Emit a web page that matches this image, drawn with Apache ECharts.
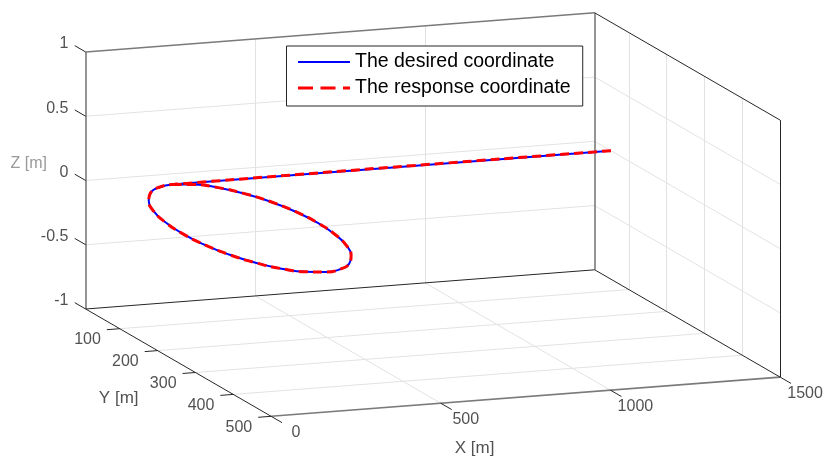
<!DOCTYPE html>
<html>
<head>
<meta charset="utf-8">
<script src="https://cdn.jsdelivr.net/npm/echarts@6/dist/echarts.min.js"></script>
<style>
  html, body { margin: 0; background: #fff; }
  #chart { width: 825px; height: 458px; }
</style>
</head>
<body>
<div id="chart"></div>
<script>
// axis limits and ticks
const xLim = [0, 1500]
const yLim = [10, 500]
const zLim = [-1, 1]
const xTicks = [0, 500, 1000, 1500]
const yTicks = [100, 200, 300, 400, 500]
const zTicks = [-1, -0.5, 0, 0.5, 1]
const xGrid = [500, 1000]
const yGrid = [100, 200, 300, 400]
const zGrid = [-0.5, 0, 0.5]

// trajectory (all points lie in the plane Z = 0)
const desiredX = [1500, 213, 161, 113, 72, 40, 20, 13, 20, 40, 72, 113, 161, 213, 265, 313, 354, 386, 406, 413, 406, 386, 354, 313, 265, 213]
const desiredY = [53, 53, 60, 80, 112, 153, 201, 253, 305, 353, 394, 426, 446, 453, 446, 426, 394, 353, 305, 253, 201, 153, 112, 80, 60, 53]
const responseX = [1500, 213, 161, 113, 72, 40, 20, 13, 20, 40, 72, 113, 161, 213, 265, 313, 354, 386, 406, 413, 406, 386, 354, 313, 265, 213]
const responseY = [53, 53, 60, 80, 112, 153, 201, 253, 305, 353, 394, 426, 446, 453, 446, 426, 394, 353, 305, 253, 201, 153, 112, 80, 60, 53]
const trackZ = 0

// camera: pixel of the (xmin,ymin,zmin) corner and the pixel span of each box edge
const view = { origin: [85.7, 309], xEdge: [509, -39.2], yEdge: [185.4, 107.3], zEdge: [0, -257] }

function project(x, y, z) {
	const u = (x - xLim[0]) / (xLim[1] - xLim[0])
	const v = (y - yLim[0]) / (yLim[1] - yLim[0])
	const w = (z - zLim[0]) / (zLim[1] - zLim[0])
	return [
		view.origin[0] + u * view.xEdge[0] + v * view.yEdge[0] + w * view.zEdge[0],
		view.origin[1] + u * view.xEdge[1] + v * view.yEdge[1] + w * view.zEdge[1]
	]
}
const seg = (a, b) => ({ coords: [project(...a), project(...b)] })

const [x0, x1] = xLim, [y0, y1] = yLim, [z0, z1] = zLim

// light grid on back wall, side wall and floor
const gridSegs = []
zGrid.forEach(z => {
	gridSegs.push(seg([x0, y0, z], [x1, y0, z]))
	gridSegs.push(seg([x1, y0, z], [x1, y1, z]))
})
xGrid.forEach(x => {
	gridSegs.push(seg([x, y0, z0], [x, y0, z1]))
	gridSegs.push(seg([x, y0, z0], [x, y1, z0]))
})
yGrid.forEach(y => {
	gridSegs.push(seg([x1, y, z0], [x1, y, z1]))
	gridSegs.push(seg([x0, y, z0], [x1, y, z0]))
})

// box edges: the softer grey ones and the dark ones
const softEdges = [
	seg([x0, y0, z0], [x0, y0, z1]),
	seg([x0, y0, z1], [x1, y0, z1]),
	seg([x1, y0, z0], [x1, y0, z1]),
	seg([x0, y1, z0], [x1, y1, z0])
]
const darkEdges = [
	seg([x1, y0, z1], [x1, y1, z1]),
	seg([x1, y1, z0], [x1, y1, z1]),
	seg([x0, y0, z0], [x1, y0, z0]),
	seg([x1, y0, z0], [x1, y1, z0]),
	seg([x0, y0, z0], [x0, y1, z0])
]

// tick marks (lengths in data units of the direction they point to)
const zTickLen = 29, yTickLen = 38, xTickLen = 29
const tickSegs = []
zTicks.forEach(z => tickSegs.push(seg([x0, y0, z], [x0, y0 - zTickLen, z])))
yTicks.forEach(y => tickSegs.push(seg([x0, y, z0], [x0 - yTickLen, y, z0])))
xTicks.forEach(x => tickSegs.push(seg([x, y1, z0], [x, y1 + xTickLen, z0])))

const zLabelData = zTicks.map(z => ({ name: String(z), value: project(x0, y0 - zTickLen, z) }))
const yLabelData = yTicks.map(y => ({ name: String(y), value: project(x0 - yTickLen, y, z0) }))
const xLabelData = xTicks.map(x => ({ name: String(x), value: project(x, y1 + xTickLen, z0) }))

const font = 'Liberation Sans, Arial, Helvetica, sans-serif'
const tickText = { show: true, position: 'inside', formatter: '{b}', fontFamily: font, fontSize: 16, color: '#262626' }
const ghost = { color: 'rgba(0,0,0,0)' }

const desired = desiredX.map((x, i) => project(x, desiredY[i], trackZ))
const response = responseX.map((x, i) => project(x, responseY[i], trackZ))

const chart = echarts.init(document.getElementById('chart'))
chart.setOption({
	animation: false,
	grid: { left: 0, right: 0, top: 0, bottom: 0 },
	xAxis: { type: 'value', min: 0, max: 825, show: false },
	yAxis: { type: 'value', min: 0, max: 458, inverse: true, show: false },
	legend: {
		data: [
			{ name: 'The desired coordinate', lineStyle: { width: 2 } },
			{ name: 'The response coordinate', lineStyle: { width: 3, type: [15, 7.5] } }
		],
		orient: 'vertical',
		left: 286.5,
		top: 46,
		padding: [6, 12, 8, 10],
		itemWidth: 52,
		itemHeight: 14,
		itemGap: 6,
		itemStyle: { opacity: 0 },
		backgroundColor: '#fff',
		borderColor: '#262626',
		borderWidth: 1,
		borderRadius: 0,
		textStyle: { fontFamily: font, fontSize: 19.5, color: '#000', lineHeight: 20 }
	},
	series: [
		{
			type: 'lines', coordinateSystem: 'cartesian2d', silent: true, z: 1,
			lineStyle: { color: '#e2e2e2', width: 1, opacity: 1 },
			data: gridSegs
		},
		{
			type: 'lines', coordinateSystem: 'cartesian2d', silent: true, z: 2,
			lineStyle: { color: '#7a7a7a', width: 1.6, opacity: 1 },
			data: softEdges
		},
		{
			type: 'lines', coordinateSystem: 'cartesian2d', silent: true, z: 2,
			lineStyle: { color: '#262626', width: 1, opacity: 1 },
			data: darkEdges.concat(tickSegs)
		},
		{
			type: 'scatter', silent: true, symbolSize: 1, itemStyle: ghost, z: 3,
			label: Object.assign({}, tickText, { align: 'right', verticalAlign: 'middle', offset: [-6.3, -1.8] }),
			data: zLabelData
		},
		{
			type: 'scatter', silent: true, symbolSize: 1, itemStyle: ghost, z: 3,
			label: Object.assign({}, tickText, { align: 'right', verticalAlign: 'middle', offset: [-6, 10] }),
			data: yLabelData
		},
		{
			type: 'scatter', silent: true, symbolSize: 1, itemStyle: ghost, z: 3,
			label: Object.assign({}, tickText, { align: 'center', verticalAlign: 'middle', offset: [14, 10] }),
			data: xLabelData
		},
		{
			type: 'scatter', silent: true, symbolSize: 1, itemStyle: ghost, z: 3,
			label: Object.assign({}, tickText, { align: 'center', verticalAlign: 'middle', fontSize: 17 }),
			data: [
				{ name: 'X [m]', value: project((x0 + x1) / 2, y1, z0), label: { offset: [-51, 52] } },
				{ name: 'Y [m]', value: project(x0, (y0 + y1) / 2, z0), label: { offset: [-59.7, 35.6] } },
				{ name: 'Z [m]', value: project(x0, y0, (z0 + z1) / 2), label: { offset: [-56.9, -17.2], fontSize: 16, color: '#808080' } }
			]
		},
		{
			name: 'The desired coordinate', type: 'line', smooth: true, symbol: 'none', z: 5,
			lineStyle: { color: '#0000ff', width: 2 },
			itemStyle: { color: '#0000ff' },
			data: desired
		},
		{
			name: 'The response coordinate', type: 'line', smooth: true, symbol: 'none', z: 6,
			lineStyle: { color: '#ff0000', width: 3, type: [9, 5] },
			itemStyle: { color: '#ff0000' },
			data: response
		}
	]
})
</script>
</body>
</html>
